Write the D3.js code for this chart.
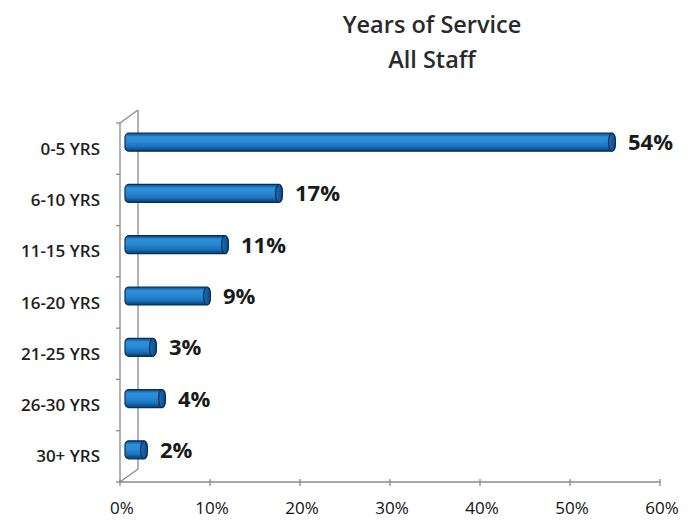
<!DOCTYPE html>
<html><head><meta charset="utf-8">
<script src="https://cdn.jsdelivr.net/npm/d3@7"></script>
<style>body{margin:0;background:#fff}</style>
</head><body>
<svg id="c" width="689" height="521"></svg>
<script>
const categories = ["0-5 YRS","6-10 YRS","11-15 YRS","16-20 YRS","21-25 YRS","26-30 YRS","30+ YRS"];
const values = [54,17,11,9,3,4,2];
const tickValues = [0,10,20,30,40,50,60];
const titleLines = ["Years of Service","All Staff"];

const svg = d3.select("#c");
const dx = 18, dy = -13;
const x = d3.scaleLinear().domain([0,60]).range([120,660]);
const y = d3.scaleBand().domain(categories).range([123,482]);

const defs = svg.append("defs");
const g = defs.append("linearGradient").attr("id","bar").attr("x1",0).attr("y1",0).attr("x2",0).attr("y2",1);
[[0,"#0b4a86"],[0.2,"#2d8fda"],[0.45,"#2a8ad6"],[0.75,"#1a72bd"],[1,"#0a3b6b"]].forEach(s=>g.append("stop").attr("offset",s[0]).attr("stop-color",s[1]));
const gc = defs.append("linearGradient").attr("id","cap").attr("x1",0).attr("y1",0).attr("x2",1).attr("y2",0);
[[0,"#1a6fb8"],[1,"#0b4a86"]].forEach(s=>gc.append("stop").attr("offset",s[0]).attr("stop-color",s[1]));

// title
svg.append("g").selectAll("text").data(titleLines).join("text")
  .attr("x",432).attr("y",(d,i)=>33+i*35).attr("text-anchor","middle")
  .attr("font-family","Open Sans").attr("font-weight",600).attr("font-size",23.5).attr("fill","#2a2a2a").text(d=>d);

const ax = svg.append("g").attr("stroke","#8a8a8a").attr("stroke-width",1.3).attr("fill","none");
ax.append("line").attr("x1",x(0)).attr("x2",x(0)).attr("y1",y.range()[0]).attr("y2",y.range()[1]);
ax.append("line").attr("x1",x(0)+dx).attr("x2",x(0)+dx).attr("y1",y.range()[0]+dy).attr("y2",y.range()[1]+dy);
ax.append("line").attr("x1",x(0)).attr("x2",x(0)+dx).attr("y1",y.range()[0]).attr("y2",y.range()[0]+dy);
ax.append("line").attr("x1",x(0)).attr("x2",x(0)+dx).attr("y1",y.range()[1]).attr("y2",y.range()[1]+dy);
ax.append("line").attr("x1",x(0)).attr("x2",x(60)).attr("y1",y.range()[1]).attr("y2",y.range()[1]);
const bounds = categories.map(c=>y(c)).concat([y.range()[1]]);
ax.selectAll(".lt").data(bounds).join("line").attr("x1",x(0)-4).attr("x2",x(0)).attr("y1",d=>d).attr("y2",d=>d);
ax.selectAll(".bt").data(tickValues).join("line").attr("x1",d=>x(d)).attr("x2",d=>x(d)).attr("y1",y.range()[1]-3).attr("y2",y.range()[1]+4);

// tick labels
svg.append("g").selectAll("text").data(tickValues).join("text")
  .attr("x",d=>x(d)+2).attr("y",514).attr("text-anchor","middle")
  .attr("font-family","Open Sans").attr("font-size",17).attr("fill","#111").text(d=>d+"%");

// category labels
svg.append("g").selectAll("text").data(categories).join("text")
  .attr("x",100).attr("y",d=>y(d)+y.bandwidth()/2+6).attr("text-anchor","end")
  .attr("font-family","Open Sans").attr("font-weight",600).attr("font-size",17).attr("fill","#1e1e1e").text(d=>d);

// bars
const bh = 18;
const bars = svg.append("g").selectAll("g").data(categories).join("g");
bars.append("rect")
  .attr("x",x(0)+dx/2-4).attr("y",d=>y(d)+y.bandwidth()/2+dy/2-bh/2)
  .attr("width",(d,i)=>x(values[i])-x(0)+4).attr("height",bh).attr("rx",4)
  .attr("fill","url(#bar)").attr("stroke","#0a2f55").attr("stroke-width",1.2);
bars.append("ellipse")
  .attr("cx",(d,i)=>x(values[i])+dx/2-3).attr("cy",d=>y(d)+y.bandwidth()/2+dy/2)
  .attr("rx",3.5).attr("ry",bh/2)
  .attr("fill","url(#cap)").attr("stroke","#0a2f55").attr("stroke-width",1.2);

// value labels
svg.append("g").selectAll("text").data(categories).join("text")
  .attr("x",(d,i)=>x(values[i])+dx/2+13).attr("y",d=>y(d)+y.bandwidth()/2+dy/2+8)
  .attr("font-family","Open Sans").attr("font-weight","bold").attr("font-size",22).attr("fill","#1a1a1a")
  .text((d,i)=>values[i]+"%");
</script>
</body></html>
